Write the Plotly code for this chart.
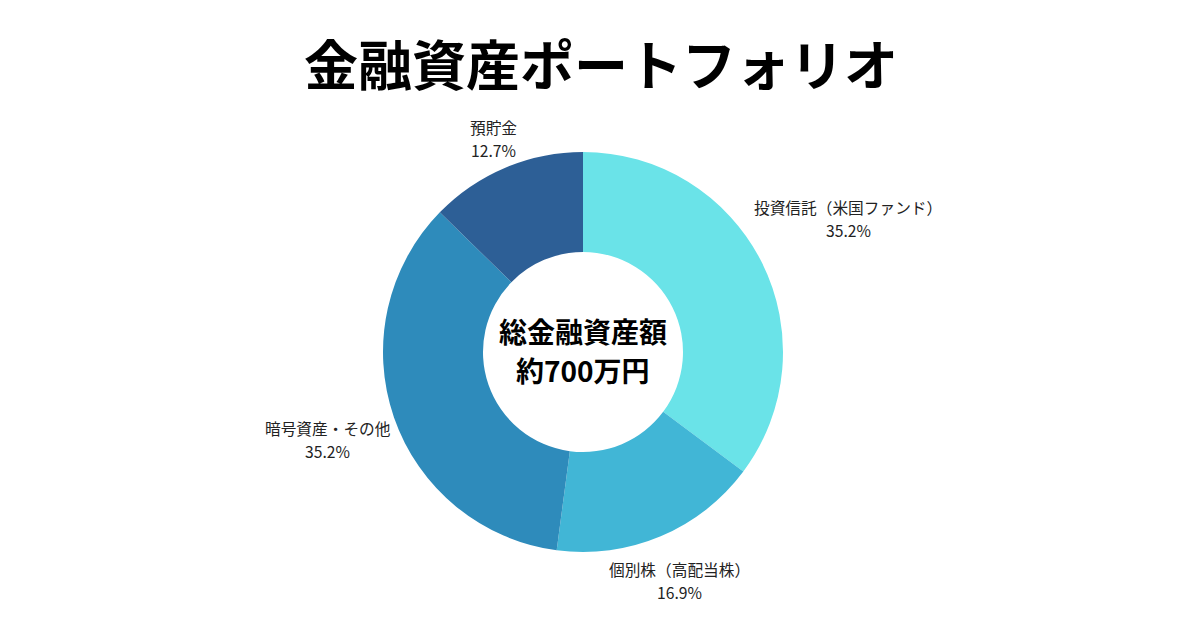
import math
import plotly.graph_objects as go

labels = ["投資信託（米国ファンド）", "個別株（高配当株）", "暗号資産・その他", "預貯金"]
values = [35.2, 16.9, 35.2, 12.7]
colors = ["#6ae3e8", "#41b6d6", "#2e8bbb", "#2d5f96"]

title_text = "金融資産ポートフォリオ"
center_lines = ["総金融資産額", "約700万円"]

# geometry of the pie in pixels
plot_w = 400
gap_r = 206       # radius where label boxes start
char_w = 15.5     # approx width of one CJK glyph at the label size
half_h = 17

fig = go.Figure()
fig.add_trace(go.Pie(
    labels=labels,
    values=values,
    hole=0.5,
    sort=False,
    direction="clockwise",
    rotation=0,
    marker=dict(colors=colors, line=dict(width=0)),
    textinfo="none",
    hoverinfo="label+percent",
    showlegend=False,
))

annotations = []
total = sum(values)
cum = 0
for lab, val in zip(labels, values):
    mid = (cum + val / 2) / total * 2 * math.pi
    cum += val
    ux, uy = math.sin(mid), math.cos(mid)
    r = gap_r + len(lab) * char_w / 2 * abs(ux) + half_h * abs(uy)
    x = 0.5 + r * ux / plot_w
    y = 0.5 + r * uy / plot_w
    for txt, dy in [(lab, 11.5), (f"{val / total * 100:.1f}%", -11.5)]:
        annotations.append(dict(text=txt, x=x, y=y, xref="paper", yref="paper",
                                xanchor="center", yanchor="middle", yshift=dy,
                                showarrow=False,
                                font=dict(family="Noto Sans CJK JP", size=15.7, color="#222")))

for txt, dy in zip(center_lines, [21.5, -17.5]):
    annotations.append(dict(text="<b>" + txt + "</b>", x=0.5, y=0.5,
                            xref="paper", yref="paper", yshift=dy, showarrow=False,
                            font=dict(family="Noto Sans CJK JP", size=28, color="black")))

# the page puts the figure 8px in from the top-left corner, so margins are offset by that
fig.update_layout(
    width=1200, height=630,
    paper_bgcolor="white",
    plot_bgcolor="white",
    margin=dict(l=375, r=425, t=144, b=86),
    title=dict(text="<b>" + title_text + "</b>", x=0.4942, xanchor="center",
               y=0.906, yanchor="middle",
               font=dict(family="Noto Sans CJK JP", size=54, color="black")),
    annotations=annotations,
)

fig.write_html("out.html")
